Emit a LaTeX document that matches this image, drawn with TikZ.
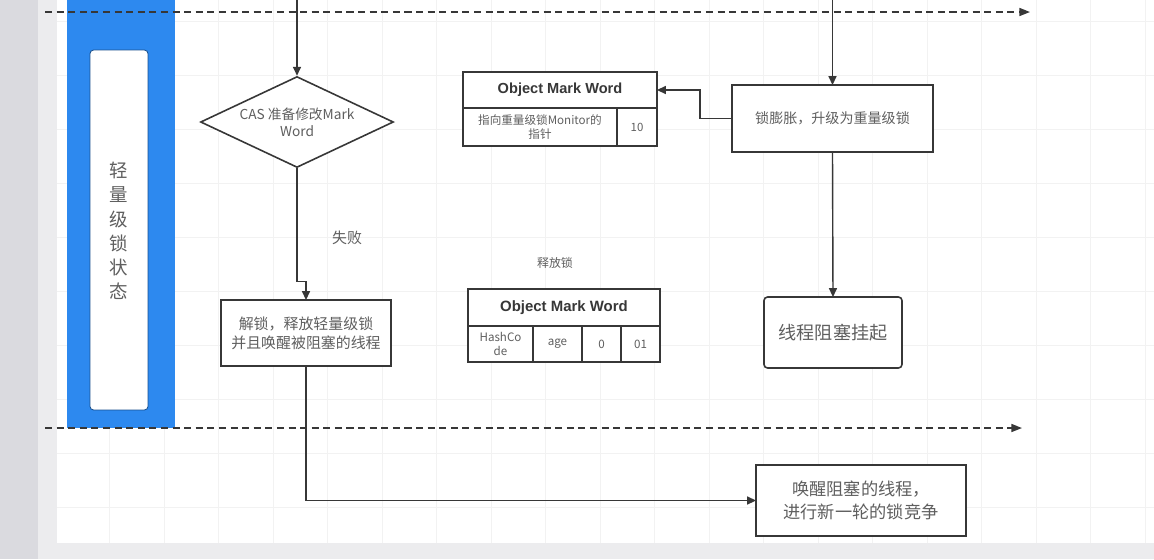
\documentclass[tikz,border=0pt]{standalone}
\usepackage{fontspec}
\setmainfont{Noto Sans CJK SC}
\newfontfamily\hdrfont{Liberation Sans}
\usetikzlibrary{shapes.geometric,arrows.meta}
\definecolor{bluebar}{RGB}{45,137,239}
\definecolor{txt}{RGB}{95,95,95}
\definecolor{ln}{RGB}{55,55,55}
\definecolor{sidegray}{RGB}{218,218,223}
\definecolor{edgegray}{RGB}{236,236,238}
\definecolor{gridc}{RGB}{242,242,242}
\begin{document}
\begin{tikzpicture}[x=0.02cm,y=-0.02cm,
  box/.style={draw=ln, line width=0.9pt, fill=white, inner sep=0pt, outer sep=0pt, align=center, text=txt},
  cell/.style={draw=ln, line width=0.9pt, fill=white, inner sep=0pt, outer sep=0pt, align=center, text=txt},
  conn/.style={draw=ln, line width=0.8pt},
  arr/.style={conn, -{Triangle[length=5pt,width=4.5pt]}},
  dline/.style={draw=ln, line width=0.9pt, dash pattern=on 4pt off 2.6pt, -{Triangle[length=6pt,width=4.5pt]}},
  lbl/.style={text=txt, inner sep=0pt, align=center}]
\useasboundingbox (0,0) rectangle (1154,559);
% background
\fill[edgegray] (0,0) rectangle (1154,559);
\fill[sidegray] (0,0) rectangle (38,559);
\fill[white] (57,0) rectangle (1154,543);
\begin{scope}
\clip (57,0) rectangle (1154,543);
\foreach \i in {0,...,20} {\draw[gridc, line width=0.4pt] (55+54.5*\i,0) -- (55+54.5*\i,543);}
\foreach \j in {0,...,10} {\draw[gridc, line width=0.4pt] (57,507-54*\j) -- (1154,507-54*\j);}
\end{scope}
% lane
\node[fill=bluebar, inner sep=0pt, minimum width=2.16cm, minimum height=8.56cm] (lane) at (121,214) {};
\node[draw=bluebar!60!black, line width=0.5pt, fill=white, rounded corners=2pt, inner sep=0pt, minimum width=1.16cm, minimum height=7.2cm] (lanein) at (119,230) {};
\node[lbl, font=\fontsize{10.5}{13.8}\selectfont] (lanetxt) at (119,231) {轻\\量\\级\\锁\\状\\态};
% dashed lines
\coordinate (d1s) at (45,12); \coordinate (d1e) at (1030,12);
\coordinate (d2s) at (45,428); \coordinate (d2e) at (1022,428);
\draw[dline] (d1s) -- (d1e);
\draw[dline] (d2s) -- (d2e);
% diamond
\node[draw=ln, line width=0.9pt, fill=white, shape=diamond, inner sep=0pt, minimum width=3.86cm, minimum height=1.82cm] (d) at (297,122) {};
\node[lbl, font=\fontsize{7.8}{9.5}\selectfont] (dtxt) at (d.center) {CAS 准备修改Mark\\Word};
% boxes
\node[box, minimum width=3.4cm, minimum height=1.32cm, font=\fontsize{8.5}{11}\selectfont] (u) at (306,333) {解锁，释放轻量级锁\\并且唤醒被阻塞的线程};
\node[box, minimum width=4.2cm, minimum height=1.42cm, font=\fontsize{9.8}{13}\selectfont] (w) at (861,500.5) {唤醒阻塞的线程，\\进行新一轮的锁竞争};
\node[box, minimum width=4.02cm, minimum height=1.34cm, font=\fontsize{8}{10}\selectfont] (f) at (832.5,118.5) {锁膨胀，升级为重量级锁};
\node[box, rounded corners=2pt, minimum width=2.76cm, minimum height=1.42cm, font=\fontsize{10.3}{12}\selectfont] (b) at (833,332.5) {线程阻塞挂起};
% top table
\node[cell, minimum width=3.88cm, minimum height=0.72cm, text=ln, font=\hdrfont\bfseries\fontsize{8.3}{10}\selectfont] (t1h) at (560,90) {Object Mark Word};
\node[cell, minimum width=3.08cm, minimum height=0.76cm, font=\fontsize{6.6}{8}\selectfont] (t1a) at (540,127) {指向重量级锁Monitor的\\指针};
\node[cell, minimum width=0.8cm, minimum height=0.76cm, font=\fontsize{6.5}{7.5}\selectfont] (t1b) at (637,127) {10};
% bottom table
\node[cell, minimum width=3.84cm, minimum height=0.74cm, text=ln, font=\hdrfont\bfseries\fontsize{8.5}{10}\selectfont] (t2h) at (564,307.5) {Object Mark Word};
\node[cell, minimum width=1.3cm, minimum height=0.72cm, font=\fontsize{6.6}{7.8}\selectfont] (c1) at (500.5,344) {HashCo\\de};
\node[cell, minimum width=0.98cm, minimum height=0.72cm, font=\fontsize{6.6}{7.8}\selectfont] (c2) at (557.5,344) {age};
\node[cell, minimum width=0.78cm, minimum height=0.72cm, font=\fontsize{6.6}{7.8}\selectfont] (c3) at (601.5,344) {0};
\node[cell, minimum width=0.78cm, minimum height=0.72cm, font=\fontsize{6.6}{7.8}\selectfont] (c4) at (640.5,344) {01};
% labels
\node[lbl, font=\fontsize{8.5}{10}\selectfont] (fail) at (347,238) {失败};
\node[lbl, font=\fontsize{6.8}{8}\selectfont] (rel) at (555,263) {释放锁};
% connectors
\coordinate (tin1) at (297,0);
\coordinate (tin2) at (832.5,0);
\draw[arr] (tin1) -- (d.north);
\draw[arr] (d.south) -- ++(0,113) -| (u.north);
\draw[arr] (u.south) |- (w.west);
\draw[arr] (tin2) -- (f.north);
\draw[arr] (f.south) -- (b.north);
\draw[arr] (f.west) -- ++(-32,0) |- (t1h.east);
\end{tikzpicture}
\end{document}
